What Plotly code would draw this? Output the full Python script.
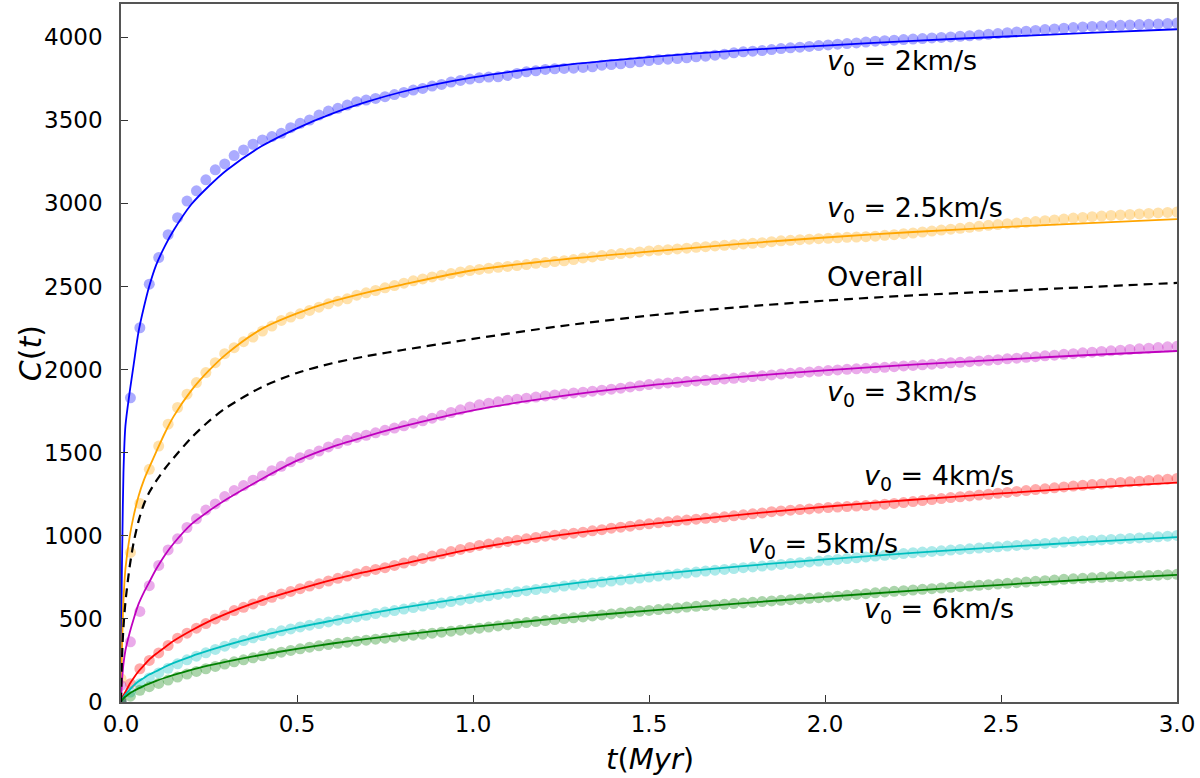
import plotly.graph_objects as go

# ---------------- data ----------------
# sampled times of the simulation points (Myr): 113 samples from 0 to 3
n_pts = 113
t_pts = [i * 3.0 / (n_pts - 1) for i in range(n_pts)]

c_v2 = [0, 1830, 2252, 2514, 2674, 2812, 2914, 3014, 3076, 3142,
        3202, 3238, 3288, 3322, 3356, 3382, 3402, 3422, 3456, 3482,
        3502, 3532, 3556, 3572, 3592, 3612, 3622, 3632, 3642, 3655,
        3668, 3682, 3692, 3706, 3716, 3730, 3740, 3748, 3756, 3760,
        3762, 3770, 3782, 3792, 3798, 3806, 3810, 3812, 3814, 3818,
        3822, 3832, 3836, 3840, 3846, 3852, 3860, 3866, 3868, 3872,
        3876, 3882, 3886, 3892, 3898, 3906, 3912, 3916, 3920, 3926,
        3932, 3936, 3940, 3945, 3950, 3954, 3958, 3962, 3966, 3971,
        3976, 3979, 3982, 3986, 3989, 3992, 3996, 3999, 4002, 4006,
        4009, 4013, 4018, 4022, 4027, 4032, 4036, 4041, 4046, 4050,
        4054, 4058, 4062, 4065, 4067, 4070, 4072, 4074, 4076, 4078,
        4080, 4082, 4085]

c_v25 = [140, 900, 1195, 1400, 1540, 1672, 1772, 1852, 1922, 1982,
         2042, 2096, 2132, 2168, 2196, 2232, 2262, 2296, 2316, 2336,
         2356, 2376, 2396, 2412, 2426, 2448, 2462, 2476, 2492, 2506,
         2520, 2534, 2546, 2558, 2568, 2578, 2588, 2596, 2603, 2610,
         2616, 2621, 2626, 2632, 2640, 2644, 2650, 2655, 2662, 2672,
         2678, 2686, 2692, 2698, 2702, 2708, 2714, 2718, 2722, 2726,
         2731, 2736, 2740, 2744, 2748, 2752, 2756, 2760, 2764, 2770,
         2775, 2778, 2782, 2785, 2788, 2790, 2793, 2796, 2798, 2800,
         2803, 2808, 2812, 2818, 2822, 2828, 2834, 2840, 2845, 2850,
         2856, 2862, 2868, 2873, 2878, 2882, 2886, 2891, 2896, 2901,
         2906, 2912, 2916, 2920, 2924, 2928, 2931, 2934, 2937, 2940,
         2943, 2946, 2948]

c_v3 = [100, 362, 545, 700, 822, 915, 982, 1050, 1102, 1155,
        1192, 1236, 1272, 1302, 1335, 1362, 1392, 1418, 1445, 1470,
        1490, 1510, 1535, 1555, 1575, 1592, 1605, 1620, 1635, 1648,
        1662, 1678, 1692, 1708, 1725, 1742, 1758, 1775, 1788, 1798,
        1806, 1815, 1822, 1828, 1835, 1842, 1848, 1854, 1860, 1864,
        1870, 1876, 1882, 1888, 1896, 1903, 1910, 1915, 1920, 1924,
        1928, 1932, 1936, 1940, 1944, 1948, 1953, 1958, 1963, 1968,
        1974, 1978, 1982, 1986, 1990, 1994, 1998, 2002, 2005, 2008,
        2011, 2014, 2018, 2022, 2025, 2029, 2033, 2037, 2041, 2044,
        2048, 2052, 2056, 2060, 2065, 2069, 2074, 2078, 2083, 2087,
        2092, 2096, 2101, 2105, 2109, 2113, 2117, 2121, 2125, 2129,
        2133, 2137, 2140]

c_v4 = [10, 110, 200, 250, 295, 340, 384, 414, 444, 472,
        500, 522, 550, 570, 590, 610, 630, 650, 665, 682,
        698, 712, 728, 744, 758, 772, 786, 798, 808, 822,
        836, 850, 864, 878, 892, 905, 918, 930, 942, 950,
        958, 966, 974, 982, 990, 998, 1004, 1010, 1016, 1022,
        1030, 1037, 1046, 1052, 1058, 1066, 1072, 1078, 1084, 1090,
        1095, 1100, 1105, 1109, 1114, 1120, 1126, 1132, 1138, 1145,
        1150, 1154, 1158, 1162, 1166, 1170, 1173, 1176, 1179, 1182,
        1185, 1190, 1195, 1200, 1206, 1212, 1218, 1224, 1230, 1235,
        1240, 1245, 1250, 1256, 1261, 1267, 1272, 1278, 1283, 1289,
        1294, 1299, 1304, 1308, 1312, 1317, 1321, 1325, 1329, 1333,
        1337, 1341, 1345]

c_v5 = [10, 60, 110, 145, 175, 203, 230, 254, 276, 296,
        316, 336, 354, 370, 386, 400, 414, 428, 440, 452,
        462, 472, 482, 492, 502, 512, 522, 532, 541, 550,
        559, 568, 577, 586, 595, 604, 613, 622, 631, 639,
        647, 655, 663, 670, 677, 684, 691, 698, 704, 710,
        716, 722, 728, 734, 740, 746, 752, 758, 764, 770,
        776, 782, 788, 793, 798, 803, 808, 813, 818, 823,
        828, 833, 838, 843, 848, 853, 858, 863, 868, 873,
        878, 883, 888, 893, 898, 902, 906, 910, 914, 918,
        922, 926, 930, 934, 938, 942, 946, 950, 954, 958,
        962, 966, 969, 972, 975, 978, 981, 984, 987, 990,
        994, 998, 1002]

c_v6 = [5, 35, 70, 92, 112, 132, 150, 168, 184, 200,
        214, 228, 242, 254, 266, 278, 290, 300, 310, 320,
        330, 338, 346, 353, 360, 366, 372, 378, 384, 390,
        396, 402, 408, 414, 420, 426, 432, 438, 444, 451,
        458, 465, 472, 478, 484, 490, 496, 502, 507, 512,
        518, 524, 530, 536, 541, 546, 551, 556, 561, 566,
        571, 576, 580, 584, 588, 592, 596, 600, 604, 608,
        612, 616, 620, 624, 628, 632, 637, 642, 647, 652,
        657, 662, 666, 670, 674, 678, 682, 686, 690, 694,
        698, 702, 706, 710, 714, 718, 722, 726, 730, 734,
        738, 741, 744, 747, 750, 753, 755, 757, 759, 761,
        763, 766, 768]

# fitted curves
t_fit = [0, 0.002, 0.004, 0.007, 0.0125, 0.025, 0.036, 0.05, 0.065, 0.08,
         0.1, 0.125, 0.15, 0.2, 0.25, 0.3, 0.4, 0.5, 0.6, 0.7,
         0.8, 1.0, 1.25, 1.5, 1.75, 2.0, 2.25, 2.5, 2.75, 3.0]
fit_v2 = [0, 700, 1000, 1380, 1660, 1870, 2030, 2230, 2375, 2500,
          2630, 2745, 2840, 2995, 3105, 3200, 3345, 3452, 3540, 3612,
          3672, 3758, 3830, 3880, 3920, 3950, 3978, 4003, 4026, 4048]
fit_v25 = [0, 250, 420, 610, 800, 1000, 1120, 1240, 1335, 1410,
           1505, 1620, 1720, 1875, 1995, 2095, 2245, 2338, 2410, 2465,
           2512, 2598, 2662, 2710, 2755, 2795, 2828, 2857, 2882, 2905]
fit_all = [0, 200, 330, 450, 600, 820, 960, 1090, 1190, 1260,
           1330, 1405, 1470, 1590, 1690, 1772, 1895, 1980, 2038, 2082,
           2118, 2185, 2262, 2325, 2375, 2415, 2447, 2472, 2497, 2522]
fit_v3 = [0, 100, 160, 230, 310, 420, 500, 590, 660, 720,
          800, 885, 955, 1070, 1150, 1220, 1342, 1452, 1535, 1600,
          1658, 1755, 1840, 1905, 1955, 1995, 2030, 2060, 2088, 2112]
fit_v4 = [0, 15, 25, 40, 60, 110, 145, 185, 220, 255,
          290, 330, 368, 430, 485, 532, 612, 676, 735, 785,
          832, 922, 1005, 1070, 1125, 1175, 1217, 1255, 1290, 1320]
fit_v5 = [0, 10, 18, 28, 45, 75, 100, 125, 145, 165,
          185, 212, 235, 275, 310, 342, 400, 448, 490, 530,
          568, 632, 705, 765, 815, 858, 897, 932, 963, 992]
fit_v6 = [0, 8, 14, 22, 32, 52, 66, 82, 97, 110,
          127, 146, 163, 194, 220, 243, 284, 320, 352, 380,
          406, 452, 505, 550, 592, 632, 670, 705, 737, 765]

x_ticks = [0, 0.5, 1.0, 1.5, 2.0, 2.5, 3.0]
x_tick_text = ["0.0", "0.5", "1.0", "1.5", "2.0", "2.5", "3.0"]
y_ticks = [0, 500, 1000, 1500, 2000, 2500, 3000, 3500, 4000]
y_tick_text = ["0", "500", "1000", "1500", "2000", "2500", "3000", "3500", "4000"]

labels = ["<i>v</i><sub>0</sub> = 2km/s", "<i>v</i><sub>0</sub> = 2.5km/s", "Overall",
          "<i>v</i><sub>0</sub> = 3km/s", "<i>v</i><sub>0</sub> = 4km/s",
          "<i>v</i><sub>0</sub> = 5km/s", "<i>v</i><sub>0</sub> = 6km/s"]
label_x = [2.0, 2.0, 2.0, 2.0, 2.105, 1.775, 2.105]
label_y = [3850, 2965, 2560, 1855, 1350, 942, 552]

# ---------------- figure ----------------
series = [
    (c_v2, fit_v2, "#0000ff"),
    (c_v25, fit_v25, "#ffa500"),
    (c_v3, fit_v3, "#bf00bf"),
    (c_v4, fit_v4, "#ff0000"),
    (c_v5, fit_v5, "#00bfbf"),
    (c_v6, fit_v6, "#008000"),
]

fig = go.Figure()
for pts, fit, col in series:
    fig.add_trace(go.Scatter(x=t_pts[:len(pts)], y=pts, mode="markers",
                             marker=dict(size=11, color=col, opacity=0.33,
                                         line=dict(width=0)),
                             hoverinfo="skip"))
for pts, fit, col in series:
    fig.add_trace(go.Scatter(x=t_fit, y=fit, mode="lines",
                             line=dict(color=col, width=1.8, shape="spline",
                                       smoothing=0.8)))
fig.add_trace(go.Scatter(x=t_fit, y=fit_all, mode="lines",
                         line=dict(color="black", width=2.2, dash="9px,6px",
                                   shape="spline", smoothing=0.8)))

for txt, lx, ly in zip(labels, label_x, label_y):
    fig.add_annotation(x=lx, y=ly, text=txt, showarrow=False,
                       xanchor="left", yanchor="middle",
                       font=dict(size=27, color="black", family="DejaVu Sans"))

# axis titles
fig.add_annotation(xref="paper", yref="paper", x=-0.086, y=0.5,
                   xanchor="center", yanchor="middle",
                   text="<i>C</i>(<i>t</i>)", textangle=-90, showarrow=False,
                   font=dict(size=30, color="black", family="DejaVu Sans"))
fig.add_annotation(xref="paper", yref="paper", x=0.501, y=-0.081,
                   xanchor="center", yanchor="middle",
                   text="<i>t</i>(<i>Myr</i>)", showarrow=False,
                   font=dict(size=29, color="black", family="DejaVu Sans"))

axis_common = dict(showgrid=False, zeroline=False, showline=True,
                   linecolor="#555555", linewidth=1.5, mirror=True,
                   ticks="inside", ticklen=7, tickwidth=1.3, tickcolor="#333333",
                   tickfont=dict(size=23, color="black", family="DejaVu Sans"))
fig.update_xaxes(range=[0, 3], tickvals=x_ticks, ticktext=x_tick_text,
                 ticklabelstandoff=1, **axis_common)
fig.update_yaxes(range=[0, 4200], tickvals=y_ticks, ticktext=y_tick_text,
                 ticklabelstandoff=12, **axis_common)

fig.update_layout(width=1200, height=778,
                  margin=dict(l=121, r=23, t=2, b=76),
                  plot_bgcolor="white", paper_bgcolor="white",
                  showlegend=False,
                  font=dict(family="DejaVu Sans", color="black"))

fig.write_html("out.html")
